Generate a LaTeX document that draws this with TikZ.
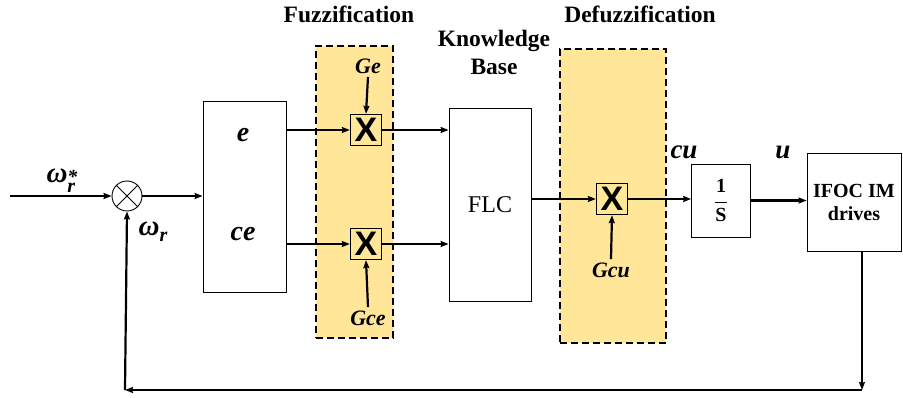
\documentclass[tikz,border=0pt]{standalone}
\usepackage{fontspec}
\setmainfont{Liberation Serif}
\setsansfont{Liberation Sans}
\usetikzlibrary{arrows.meta}
\definecolor{fz}{HTML}{FFE699}
\tikzset{
  blk/.style={draw, line width=0.8pt, fill=white, inner sep=0pt},
  mul/.style={draw, line width=1.3pt, fill=fz, minimum size=31pt, inner sep=0pt, font=\fontsize{34}{34}\selectfont\bfseries\sffamily},
  region/.style={draw, dashed, dash pattern=on 7pt off 4pt, line width=1.2pt, fill=fz, inner sep=0pt},
  sig/.style={line width=2.2pt, -{Stealth[length=8pt,width=6pt,inset=1pt]}},
  lab/.style={font=\fontsize{23.5}{28}\selectfont\bfseries},
  ilab/.style={font=\fontsize{28}{28}\selectfont\bfseries\itshape},
  glab/.style={font=\fontsize{22}{22}\selectfont\bfseries\itshape},
  wlab/.style={font=\fontsize{29}{29}\selectfont\bfseries\itshape},
}
\begin{document}
\begin{tikzpicture}[x=1pt,y=-1pt]
\useasboundingbox (0,0) rectangle (903,398);
% regions
\node[region, minimum width=77pt, minimum height=292pt] (fuzzreg) at (354.5,192) {};
\node[region, minimum width=106pt, minimum height=294pt] (defreg) at (613,196) {};
\node[lab] (fuzzt) at (349,14) {Fuzzification};
\node[lab] (deft) at (640,14) {Defuzzification};
\node[lab, align=center] (kb) at (494,52) {Knowledge\\Base};
% blocks
\coordinate (in) at (10,196);
\node[draw, circle, line width=0.9pt, minimum size=30pt, inner sep=0pt] (sum) at (127,196) {};
\draw[line width=0.9pt] (sum.45) -- (sum.225) (sum.135) -- (sum.315);
\node[blk, minimum width=83pt, minimum height=191pt] (ebox) at (244.5,196.5) {};
\node[ilab] (el) at (243,135) {e};
\node[ilab] (cel) at (243,234) {ce};
\node[mul] (m1) at (366,130) {X};
\node[mul] (m2) at (366,244) {X};
\node[glab] (ge) at (368,66) {Ge};
\node[glab] (gce) at (368,318) {Gce};
\node[blk, minimum width=82pt, minimum height=193pt, font=\fontsize{24}{24}\selectfont] (flc) at (490,204.5) {FLC};
\node[mul] (m3) at (612,199) {X};
\node[glab] (gcu) at (611,270) {Gcu};
\node[blk, minimum width=59pt, minimum height=73pt, font=\fontsize{20}{20}\selectfont\bfseries] (integ) at (721,200.5) {$\displaystyle\frac{\mbox{\bfseries 1}}{\mbox{\bfseries S}}$};
\node[blk, minimum width=94pt, minimum height=98pt, align=center, font=\fontsize{20}{23}\selectfont\bfseries] (ifoc) at (854,202) {IFOC IM\\drives};
\node[font=\fontsize{27}{27}\selectfont\bfseries\itshape] (cul) at (684,152) {cu};
\node[font=\fontsize{27}{27}\selectfont\bfseries\itshape] (ul) at (783,152) {u};
\node[wlab, inner sep=0pt] (wref) at (62,181) {ω\raisebox{-10pt}{\fontsize{20}{20}\selectfont\shortstack[l]{*\\[-3pt]r}}};
\node[wlab, inner sep=0pt] (wr) at (153,232) {ω\raisebox{-6pt}{\fontsize{20}{20}\selectfont r}};
% signals
\draw[sig] (in) -- (sum.west);
\draw[sig] (sum.east) -- (ebox.west |- sum.east);
\draw[sig] (ebox.east |- m1.west) -- (m1.west);
\draw[sig] (ebox.east |- m2.west) -- (m2.west);
\draw[sig] (m1.east) -- (flc.west |- m1.east);
\draw[sig] (m2.east) -- (flc.west |- m2.east);
\draw[sig] (ge.south) -- (m1.north);
\draw[sig] (gce.north) -- (m2.south);
\draw[sig] (flc.east |- m3.west) -- (m3.west);
\draw[sig] (gcu.north) -- (m3.south);
\draw[sig] (m3.east) -- (integ.west |- m3.east);
\draw[sig] (integ.east) -- (ifoc.west |- integ.east);
\coordinate (fb1) at (862,390);
\coordinate (fb2) at (125,390);
\draw[sig] (ifoc.south -| fb1) -- (fb1);
\draw[sig] (fb1) -- (fb2);
\draw[sig] (fb2) -- (sum.south);
\end{tikzpicture}
\end{document}
